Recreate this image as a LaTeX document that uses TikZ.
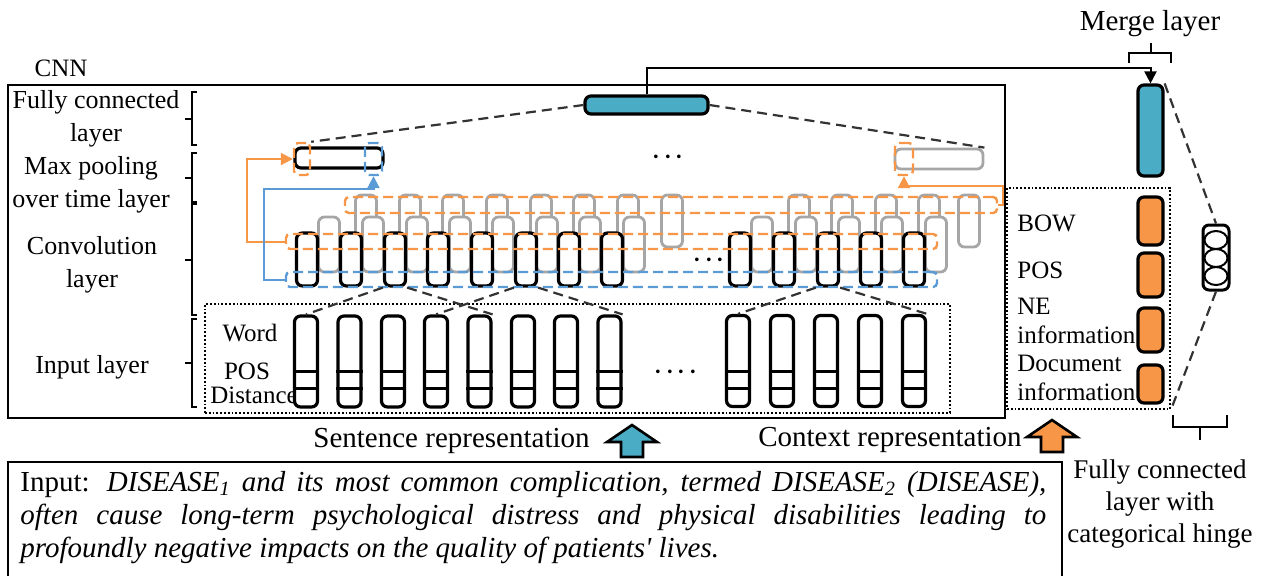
\documentclass[tikz,border=0pt]{standalone}
\usepackage{fontspec}
\setmainfont{Liberation Serif}
\usetikzlibrary{positioning,arrows.meta,calc,shapes.geometric}
\definecolor{HingeTeal}{RGB}{75,172,198}
\definecolor{CtxOrange}{RGB}{247,150,70}
\definecolor{PickBlue}{RGB}{91,155,213}
\definecolor{MapGrey}{RGB}{166,166,166}
\newcommand{\layerfont}{\fontsize{13}{16.5}\selectfont}
\newcommand{\featfont}{\fontsize{12.5}{14.5}\selectfont}
\newcommand{\reprfont}{\fontsize{14.5}{16.5}\selectfont}
\newcommand{\dotfont}{\fontsize{19}{19}\selectfont}
\tikzset{
  cnnbox/.style={draw,line width=1.1pt,inner sep=0pt},
  dotbox/.style={draw,line width=0.9pt,densely dotted,inner sep=0pt},
  layerlabel/.style={align=center,font=\layerfont,inner sep=0pt},
  featlabel/.style={align=left,font=\featfont,inner sep=0pt},
  reprlabel/.style={align=center,font=\reprfont,inner sep=0pt},
  bracket/.style={line width=1pt},
  incol/.style={draw,line width=1.6pt,rounded corners=3pt,fill=white,inner sep=0pt,
    minimum width=11.5pt,minimum height=45.5pt},
  convcol/.style={draw,line width=1.6pt,rounded corners=3pt,fill=white,inner sep=0pt,
    minimum width=10.5pt,minimum height=26.5pt},
  greycol/.style={draw=MapGrey,line width=1.4pt,rounded corners=3pt,fill=white,inner sep=0pt,
    minimum width=10.5pt},
  poolrow/.style={draw,line width=1.6pt,rounded corners=3pt,inner sep=0pt,
    minimum width=44pt,minimum height=10pt},
  orangegroup/.style={draw=CtxOrange,line width=1.2pt,dash pattern=on 5pt off 2.5pt,
    rounded corners=2pt,inner sep=0pt},
  bluegroup/.style={draw=PickBlue,line width=1.2pt,dash pattern=on 5pt off 2.5pt,
    rounded corners=2pt,inner sep=0pt},
  tealbar/.style={draw,line width=1.6pt,fill=HingeTeal,rounded corners=3pt,inner sep=0pt},
  ctxbar/.style={draw,line width=1.6pt,fill=CtxOrange,rounded corners=3pt,inner sep=0pt,
    minimum width=12.5pt},
  outbox/.style={draw,line width=1.5pt,rounded corners=3pt,inner sep=0pt,
    minimum width=13pt,minimum height=32.5pt},
  unitnode/.style={draw,ellipse,line width=1pt,inner sep=0pt,minimum width=11.5pt,minimum height=9pt},
  dotsnode/.style={font=\dotfont,inner sep=0pt},
  fieldline/.style={draw=black!80,line width=1.1pt,dash pattern=on 5pt off 3pt},
  orangeflow/.style={-{Triangle[length=6pt,width=6pt]},draw=CtxOrange,line width=1pt},
  blueflow/.style={-{Triangle[length=6pt,width=6pt]},draw=PickBlue,line width=1pt},
  mergeflow/.style={-{Triangle[length=6pt,width=6pt]},line width=1pt},
  blockarrow/.style={line width=1.3pt,line join=miter}
}

\begin{document}
\begin{tikzpicture}[x=0.5pt,y=-0.5pt]
  \useasboundingbox (0,0) rectangle (1263,575);
  \node[cnnbox,minimum width=498.5pt,minimum height=166.5pt] (cnn) at (506.5,251.5) {};
  \node[featlabel] (cnnlabel) at (61,68) {CNN};
  \node[layerlabel] (fclabel) at (96,119) {Fully connected\\layer};
  \node[layerlabel] (poollabel) at (91,185) {Max pooling\\over time layer};
  \node[layerlabel] (convlabel) at (92,265) {Convolution\\layer};
  \node[layerlabel] (inlabel) at (92,367) {Input layer};
  \foreach \t/\b in {92/145,153/202,204/315,319/407}
    \draw[bracket] (197,\t) -- (192,\t) -- (192,\b) -- (197,\b)
      (192,{(\t+\b)/2}) -- (185,{(\t+\b)/2});

  \node[dotbox,minimum width=372.5pt,minimum height=54.5pt] (inbox) at (577.5,358.5) {};
  \node[featlabel] (wordlabel) at (250,333) {Word};
  \node[featlabel] (poslabel) at (247,371) {POS};
  \node[featlabel] (distlabel) at (254,395) {Distance};
  \foreach \x [count=\i] in {306,349.5,393,436,479.5,523,566,609.5} {
    \node[incol] (in\i) at (\x,361.5) {};
    \draw[line width=1.6pt] ([yshift=10pt]in\i.south west) -- ([yshift=10pt]in\i.south east)
      ([yshift=18.5pt]in\i.south west) -- ([yshift=18.5pt]in\i.south east);
  }
  \foreach \x [count=\i] in {738,782,826,870,914} {
    \node[incol] (inr\i) at (\x,361) {};
    \draw[line width=1.6pt] ([yshift=10pt]inr\i.south west) -- ([yshift=10pt]inr\i.south east)
      ([yshift=18.5pt]inr\i.south west) -- ([yshift=18.5pt]inr\i.south east);
  }
  \node[dotsnode] (indots) at (676,373) {${\cdot}\mkern1mu{\cdot}\mkern1mu{\cdot}\mkern1mu{\cdot}$};

  \foreach \x [count=\i] in {366,410,453,497,541,584,628,672,799,842,886,929,969}
    \node[greycol,minimum height=26pt] (gu\i) at (\x,221) {};
  \foreach \x [count=\i] in {329,373,417,460,503,547,590,634,762,806,849,892,936}
    \node[greycol,minimum height=27.5pt] (gl\i) at (\x,244.5) {};
  \foreach \x [count=\i] in {307,351,395,438,482,526,569,612}
    \node[convcol] (cv\i) at (\x,259.5) {};
  \foreach \x [count=\i] in {740,784,828,871,914}
    \node[convcol] (cvr\i) at (\x,259.5) {};
  \node[dotsnode] (convdots) at (709,261) {${\cdot}\mkern1mu{\cdot}\mkern1mu{\cdot}$};

  \node[orangegroup,minimum width=326pt,minimum height=8pt] (og1) at (671,205) {};
  \node[orangegroup,minimum width=325.5pt,minimum height=7.5pt] (og2) at (611.5,241.5) {};
  \node[bluegroup,minimum width=325.5pt,minimum height=7.5pt] (bg) at (611.5,279.5) {};

  \node[poolrow] (pool) at (339,158) {};
  \node[poolrow,draw=MapGrey,line width=1.4pt] (gpool) at (939,159) {};
  \node[orangegroup,minimum width=8pt,minimum height=16pt] (opick1) at (302,159) {};
  \node[bluegroup,minimum width=8.5pt,minimum height=16pt] (bpick) at (373.5,159) {};
  \node[orangegroup,minimum width=9pt,minimum height=16pt] (opick2) at (904,159) {};
  \node[dotsnode] (pooldots) at (668,158) {${\cdot}\mkern1mu{\cdot}\mkern1mu{\cdot}$};
  \draw[orangeflow] (og2.west) -- ++(-38,0) |- (opick1.west);
  \draw[blueflow] (bg.west) -- ++(-21,0) |- ($(bpick.south)+(0,13)$) -- (bpick.south);
  \draw[orangeflow] (og1.east) -- ++(5,0) |- ($(opick2.south)+(0,10)$) -- (opick2.south);

  \node[tealbar,minimum width=61.5pt,minimum height=9pt] (fc) at (646.5,105) {};
  \draw[fieldline] (fc.west) -- (opick1.north east) (fc.east) -- (gpool.north east);
  \draw[fieldline] (cv3.south west) -- (in1.north) (cv3.south east) -- (in5.north east)
    (cv6.south west) -- (in4.north) (cv6.south east) -- (in8.north east)
    (cvr3.south west) -- (inr1.north) (cvr3.south east) -- (inr5.north east);

  \node[dotbox,minimum width=81.5pt,minimum height=110.5pt] (ctx) at (1088.5,298.5) {};
  \node[tealbar,minimum width=12.5pt,minimum height=45.5pt] (merge) at (1150.5,130.5) {};
  \node[ctxbar,minimum height=24pt] (bow) at (1150.5,221) {};
  \node[ctxbar,minimum height=22pt] (pos) at (1150.5,275) {};
  \node[ctxbar,minimum height=22pt] (ne) at (1150.5,330) {};
  \node[ctxbar,minimum height=19pt] (doc) at (1150.5,384) {};
  \node[featlabel,anchor=west] (bowlabel) at (1017,223) {BOW};
  \node[featlabel,anchor=west] (poslabelr) at (1017,270) {POS};
  \node[featlabel,anchor=west] (nelabel) at (1017,321) {NE\\information};
  \node[featlabel,anchor=west] (doclabel) at (1017,378) {Document\\information};
  \draw[mergeflow] (fc.north) -- ++(0,-26) -| (merge.north);
  \node[reprlabel] (mergelabel) at (1150,24) {Merge layer};
  \draw[bracket] (1129,63) -- (1129,53) -- (1171,53) -- (1171,63) (1151,53) -- (1151,43);

  \node[outbox] (out) at (1216,257.5) {};
  \foreach \y [count=\i] in {240,258,276}
    \node[unitnode] (o\i) at (1216,\y) {};
  \draw[fieldline] (merge.north east) -- (out.north) (out.south) -- (ctx.south east);
  \draw[bracket] (1173,415) -- (1173,427) -- (1227,427) -- (1227,415) (1200,427) -- (1200,440);
  \node[layerlabel,font=\fontsize{13.5}{16}\selectfont] (hingelabel) at (1160,504)
    {Fully connected\\layer with\\categorical hinge};

  \coordinate (sarrow) at (632,441);
  \coordinate (carrow) at (1052,436);
  \foreach \c/\col in {sarrow/HingeTeal,carrow/CtxOrange}
    \draw[blockarrow,fill=\col,shift={(\c)}] (-11,16) -- (-11,1) -- (-25,1) -- (0,-16)
      -- (25,1) -- (11,1) -- (11,16) -- cycle;
  \node[reprlabel,left=21pt of sarrow] (sentlabel) {Sentence representation};
  \node[reprlabel,anchor=east] (ctxlabel) at (1022,440) {Context representation};

  \draw[line width=1.1pt] (8,462) rectangle (1062,590);
  \node[anchor=north west,inner sep=0pt,text width=513pt,align=justify,
    font=\fontsize{14.5}{16.5}\selectfont] (sentence) at (20,471)
    {Input: \textit{DISEASE\textsubscript{1} and its most common complication, termed
    DISEASE\textsubscript{2} (DISEASE),}\linebreak \textit{often cause long-term psychological
    distress and physical disabilities leading to}\linebreak \textit{profoundly negative
    impacts on the quality of patients\textquotesingle\ lives.}};
\end{tikzpicture}
\end{document}
